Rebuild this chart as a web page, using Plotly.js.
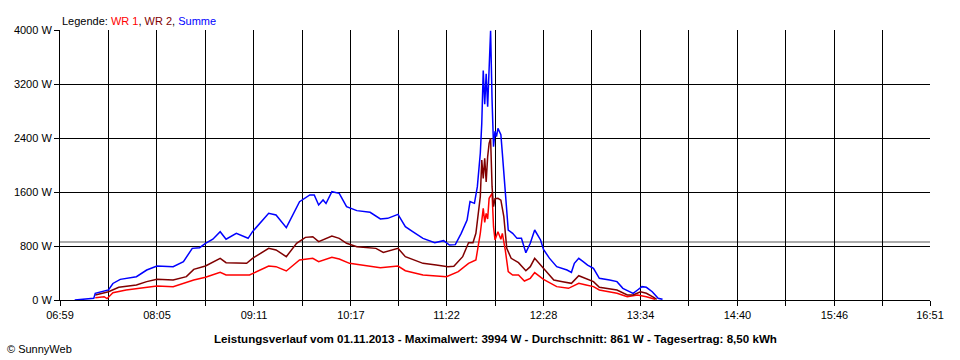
<!DOCTYPE html>
<html>
<head>
<meta charset="utf-8">
<script src="https://cdn.plot.ly/plotly-3.0.1.min.js"></script>
<style>
html,body{margin:0;padding:0;background:#fff;}
#chart{width:960px;height:360px;}
</style>
</head>
<body>
<div id="chart"></div>
<script>
// ---- data ----
const xTickLabels = ["06:59","08:05","09:11","10:17","11:22","12:28","13:34","14:40","15:46","16:51"];
const yTickValues = [0, 800, 1600, 2400, 3200, 4000];
const yTickLabels = ["0 W","800 W","1600 W","2400 W","3200 W","4000 W"];
const averageW = 861;

const summeTimes = ["07:09","07:22","07:23","07:32","07:35","07:40","07:51","07:58","08:05","08:16","08:23","08:29","08:34","08:38","08:43","08:48","08:52","08:59","09:07","09:10","09:21","09:26","09:33","09:42","09:49","09:52","09:55","09:58","10:00","10:04","10:09","10:14","10:21","10:30","10:37","10:42","10:49","10:54","10:59","11:06","11:14","11:20","11:24","11:28","11:32","11:36","11:38","11:41","11:43","11:45","11:46","11:47","11:48","11:49","11:50","11:51","11:52","11:53","11:54","11:55","11:56","11:57","11:59","12:00","12:02","12:04","12:07","12:10","12:13","12:16","12:19","12:22","12:26","12:28","12:32","12:37","12:44","12:47","12:49","12:52","12:55","12:58","13:02","13:06","13:13","13:18","13:22","13:29","13:32","13:35","13:38","13:42","13:44","13:46","13:49"];
const summeValues = [0,25,100,150,245,306,345,444,504,494,568,765,775,840,900,1012,900,988,914,1012,1284,1259,1072,1457,1556,1556,1408,1482,1430,1605,1580,1383,1324,1300,1200,1210,1269,1086,1012,913,849,879,815,820,988,1185,1457,1432,1679,2173,2617,3400,2900,3350,2864,3555,3990,2963,2272,2500,2420,2543,2450,2173,1580,1037,988,913,914,701,840,1037,889,750,620,494,444,410,543,617,568,518,469,321,296,272,173,99,148,198,188,123,74,25,10];

const wr2Times = ["07:23","07:32","07:39","07:51","07:58","08:05","08:16","08:25","08:30","08:38","08:48","08:52","09:06","09:10","09:21","09:26","09:33","09:40","09:46","09:51","09:55","09:58","10:04","10:09","10:14","10:21","10:34","10:39","10:49","10:54","11:06","11:15","11:23","11:27","11:33","11:37","11:40","11:42","11:45","11:46","11:47","11:48","11:49","11:50","11:51","11:52","11:53","11:54","11:55","11:57","11:59","12:01","12:03","12:06","12:09","12:11","12:16","12:19","12:22","12:28","12:35","12:41","12:47","12:52","12:58","13:02","13:06","13:18","13:25","13:29","13:34","13:38","13:43","13:45"];
const wr2Values = [74,123,188,222,272,306,296,346,454,504,617,553,543,617,765,741,642,840,928,938,864,889,948,914,840,790,765,706,765,642,543,518,494,500,642,849,849,988,1531,2074,1800,2100,1750,2123,2321,2395,1679,1383,1500,1506,1480,1234,765,617,580,553,434,494,617,469,296,272,247,360,306,272,188,148,74,74,123,99,40,10];

const wr1Times = ["07:23","07:29","07:31","07:35","07:44","07:58","08:05","08:16","08:30","08:38","08:48","08:52","09:08","09:21","09:26","09:33","09:42","09:51","09:55","10:04","10:09","10:16","10:34","10:37","10:49","10:54","11:06","11:22","11:30","11:37","11:42","11:45","11:47","11:48","11:49","11:50","11:51","11:53","11:54","11:55","11:57","11:59","12:00","12:02","12:04","12:07","12:11","12:15","12:19","12:22","12:28","12:31","12:37","12:45","12:52","12:57","13:02","13:06","13:18","13:25","13:32","13:38","13:43","13:44"];
const wr1Values = [35,49,20,109,148,188,207,197,296,336,410,370,370,504,494,430,593,617,568,632,607,543,484,479,503,434,370,346,420,543,593,988,1358,1150,1284,1200,1506,1580,1086,889,1012,900,988,740,420,370,370,281,321,405,306,272,198,173,247,222,198,148,99,49,74,49,20,10];

// ---- helpers ----
function toMin(s){ const p = s.split(":"); return (+p[0])*60 + (+p[1]); }
const majorVals = xTickLabels.map(toMin);
const minorVals = [];
for (let i = 0; i < majorVals.length - 1; i++) minorVals.push((majorVals[i] + majorVals[i+1]) / 2);

const FONT = "Liberation Sans, Arial, sans-serif";

const traces = [
  {x: wr1Times.map(toMin), y: wr1Values, type: "scatter", mode: "lines",
   line: {color: "#ff0000", width: 1.5}, name: "WR 1", hoverinfo: "skip"},
  {x: wr2Times.map(toMin), y: wr2Values, type: "scatter", mode: "lines",
   line: {color: "#800000", width: 1.5}, name: "WR 2", hoverinfo: "skip"},
  {x: summeTimes.map(toMin), y: summeValues, type: "scatter", mode: "lines",
   line: {color: "#0000ff", width: 1.5}, name: "Summe", hoverinfo: "skip"}
];

const layout = {
  width: 960, height: 360,
  margin: {l: 60, r: 30, t: 30, b: 60},
  paper_bgcolor: "#ffffff", plot_bgcolor: "#ffffff",
  showlegend: false,
  font: {family: FONT, size: 11, color: "#000"},
  xaxis: {
    range: [majorVals[0], majorVals[majorVals.length-1]],
    tickmode: "array", tickvals: majorVals, ticktext: xTickLabels,
    ticks: "outside", ticklen: 5, tickcolor: "#000", tickwidth: 1,
    showgrid: true, gridcolor: "#000", gridwidth: 1,
    minor: {tickmode: "array", tickvals: minorVals, ticks: "outside", ticklen: 5,
            tickcolor: "#000", showgrid: true, gridcolor: "#000", gridwidth: 1},
    showline: true, linecolor: "#000", linewidth: 1,
    zeroline: false, fixedrange: true,
    tickfont: {family: FONT, size: 11, color: "#000"}
  },
  yaxis: {
    range: [0, 4000],
    tickmode: "array", tickvals: yTickValues, ticktext: yTickLabels,
    ticks: "outside", ticklen: 5, tickcolor: "#000",
    showgrid: true, gridcolor: "#000", gridwidth: 1,
    showline: true, linecolor: "#000", linewidth: 1,
    zeroline: false, fixedrange: true,
    tickfont: {family: FONT, size: 11, color: "#000"}
  },
  shapes: [
    {type: "line", xref: "paper", x0: 0, x1: 1, yref: "y", y0: averageW, y1: averageW,
     line: {color: "#909090", width: 1.5}, layer: "below"}
  ],
  annotations: [
    {xref: "paper", yref: "paper", x: 0, y: 1, xanchor: "left", yanchor: "bottom", yshift: 1,
     showarrow: false, font: {family: FONT, size: 11, color: "#000"},
     text: 'Legende: <span style="color:#ff0000">WR 1</span>, <span style="color:#800000">WR 2</span>, <span style="color:#0000ff">Summe</span>'},
    {xref: "paper", yref: "paper", x: 0.5, y: 0, xanchor: "center", yanchor: "middle", yshift: -38,
     showarrow: false, font: {family: FONT, size: 11.6, color: "#000", weight: "bold"},
     text: "<b>Leistungsverlauf vom 01.11.2013 - Maximalwert: 3994 W - Durchschnitt: 861 W - Tagesertrag: 8,50 kWh</b>"},
    {xref: "paper", yref: "paper", x: -55/870, y: 0, xanchor: "left", yanchor: "middle", yshift: -49,
     showarrow: false, font: {family: FONT, size: 11, color: "#000"},
     text: "© SunnyWeb"}
  ]
};

Plotly.newPlot("chart", traces, layout, {staticPlot: true, displayModeBar: false});
</script>
</body>
</html>
